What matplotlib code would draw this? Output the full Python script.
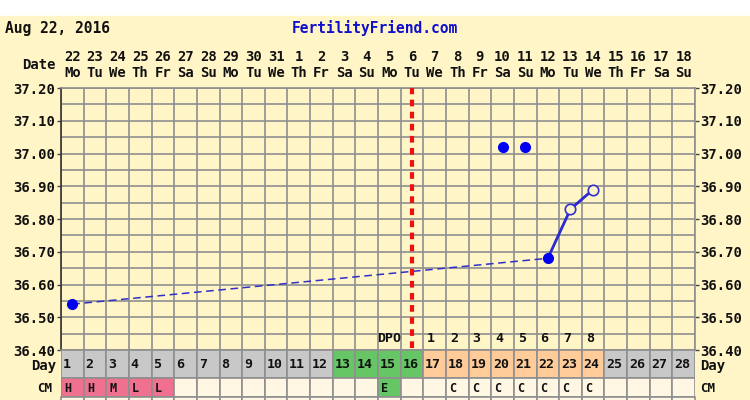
import matplotlib
matplotlib.use("Agg")
import matplotlib.pyplot as plt
import matplotlib.transforms as mtransforms
from matplotlib.patches import Rectangle
import numpy as np

# chart data
title_date = "Aug 22, 2016"
site = "FertilityFriend.com"
cycle_days = list(range(1, 29))
dates = [22, 23, 24, 25, 26, 27, 28, 29, 30, 31,
         1, 2, 3, 4, 5, 6, 7, 8, 9, 10, 11, 12, 13, 14, 15, 16, 17, 18]
weekdays = ["Mo", "Tu", "We", "Th", "Fr", "Sa", "Su"] * 4
y_ticks = [36.40, 36.50, 36.60, 36.70, 36.80, 36.90, 37.00, 37.10, 37.20]

# temps: recorded days, discarded days, open (unconfirmed) days
temp_days = [1, 22]
temps = [36.54, 36.68]
discard_days = [20, 21]
discard_temps = [37.02, 37.02]
open_days = [23, 24]
open_temps = [36.83, 36.89]

ovulation_day = 16
dpo_days = [17, 18, 19, 20, 21, 22, 23, 24]
dpo = [1, 2, 3, 4, 5, 6, 7, 8]

day_phase = (["none"] * 12 + ["fertile"] * 4 + ["luteal"] * 8 + ["none"] * 4)
cm = ["H", "H", "M", "L", "L", "", "", "", "", "", "", "", "", "", "E",
      "", "", "C", "C", "C", "C", "C", "C", "C", "", "", "", ""]

BG = "#FFF5C6"
GRID = "#8F8F8F"
phase_colors = {"none": "#C8C8C8", "fertile": "#66C666", "luteal": "#FFCC99"}
cm_colors = {"H": "#F07090", "M": "#F07090", "L": "#F07090",
             "E": "#66C666", "C": "#FFF7E4", "": "#FFF7E4"}

plt.rcParams["font.family"] = ["DejaVu Sans Mono"]
plt.rcParams["font.weight"] = "bold"
plt.rcParams["text.color"] = "#111111"

W, H = 750, 400
fig = plt.figure(figsize=(W / 100, H / 100), dpi=100)


def px_axes(x0, y0, x1, y1):
    return fig.add_axes([x0 / W, 1 - y1 / H, (x1 - x0) / W, (y1 - y0) / H])


bg = px_axes(0, 0, W, H)
bg.set_xlim(0, W)
bg.set_ylim(H, 0)
bg.axis("off")
bg.add_patch(Rectangle((0, 16), W, H - 16, color=BG, zorder=0))

bg.text(5, 28, title_date, fontsize=10.5, va="center", ha="left")
bg.text(375, 28, site, fontsize=10.5, va="center", ha="center",
        color="#1010CC")

LEFT, RIGHT, TOP, BOTTOM = 61, 695, 88, 350
ax = px_axes(LEFT, TOP, RIGHT, BOTTOM)
ax.set_facecolor(BG)
ax.set_xlim(0.5, 28.5)
ax.set_ylim(36.40, 37.20)
ax.set_xticks(np.arange(0.5, 28.6, 1.0))
ax.set_xticklabels([])
ax.tick_params(axis="x", length=0)
ax.set_yticks(y_ticks)
ax.set_yticks(np.arange(36.45, 37.2, 0.1), minor=True)
ax.set_yticklabels(["%.2f" % v for v in y_ticks])
ax.tick_params(axis="y", which="major", length=3, width=1, color="#444444",
               labelleft=True, labelright=True, right=True, pad=1,
               labelsize=10, labelcolor="#111111")
ax.tick_params(axis="y", which="minor", length=0)
ax.grid(True, which="both", color=GRID, linewidth=1.2)
ax.set_axisbelow(True)
for side, sp in ax.spines.items():
    sp.set_color(GRID)
    sp.set_linewidth(1.2)
ax.spines["left"].set_color("#333333")

# header rows: date and weekday
hdr = mtransforms.blended_transform_factory(ax.transData, bg.transData)
for d, n, wd in zip(cycle_days, dates, weekdays):
    ax.text(d, 57, str(n), transform=hdr, ha="center", va="center",
            fontsize=10, clip_on=False)
    ax.text(d, 73, wd, transform=hdr, ha="center", va="center",
            fontsize=10, clip_on=False)
bg.text(56, 65, "Date", ha="right", va="center", fontsize=10)

# dashed line across the missing temps
ax.plot(temp_days, temps, color="#3030C8", lw=1.1, ls=(0, (5, 3)), zorder=3)
ax.plot([temp_days[-1]] + open_days, [temps[-1]] + open_temps,
        color="#2A2AD0", lw=2, zorder=3)
ax.plot(temp_days, temps, "o", color="#0000F0", ms=7, zorder=4)
ax.plot(discard_days, discard_temps, "o", color="#0000F0", ms=7, ls="none",
        zorder=4)
ax.plot(open_days, open_temps, "o", mfc=BG, mec="#3030D0", mew=1.2, ms=7.5,
        ls="none", zorder=4)

# ovulation line
ax.plot([ovulation_day, ovulation_day], [36.405, 37.2], color="#EE1111",
        lw=3, ls=(0, (1.6, 1.3)), zorder=5, clip_on=False)

# DPO row
ax.text(15, 36.435, "DPO", ha="center", va="center", fontsize=9.5)
for d, v in zip(dpo_days, dpo):
    ax.text(d - 0.15, 36.435, str(v), ha="center", va="center",
            fontsize=9.5)

# day / CM rows
low = px_axes(LEFT, BOTTOM, RIGHT, H)
low.set_xlim(0.5, 28.5)
low.set_ylim(H, BOTTOM)
low.axis("off")
rows = [(350, 378), (378, 397), (397, 416)]
low.bar(cycle_days, rows[0][1] - rows[0][0], bottom=rows[0][0], width=1,
        color=[phase_colors[p] for p in day_phase], edgecolor=GRID,
        linewidth=1.2)
low.bar(cycle_days, rows[1][1] - rows[1][0], bottom=rows[1][0], width=1,
        color=[cm_colors[c] for c in cm], edgecolor=GRID, linewidth=1.2)
low.bar(cycle_days, rows[2][1] - rows[2][0], bottom=rows[2][0], width=1,
        color="#FFF7E4", edgecolor=GRID, linewidth=1.2, clip_on=False)
for d, c in zip(cycle_days, cm):
    low.text(d - 0.42, 365, str(d), ha="left", va="center", fontsize=9.5)
    if c:
        low.text(d - 0.2, 388, c, ha="center", va="center", fontsize=8.5)

bg.text(56, 366, "Day", ha="right", va="center", fontsize=10)
bg.text(52, 388, "CM", ha="right", va="center", fontsize=9)
bg.text(700, 366, "Day", ha="left", va="center", fontsize=10)
bg.text(700, 388, "CM", ha="left", va="center", fontsize=9)

fig.savefig("out.png", dpi=100)
